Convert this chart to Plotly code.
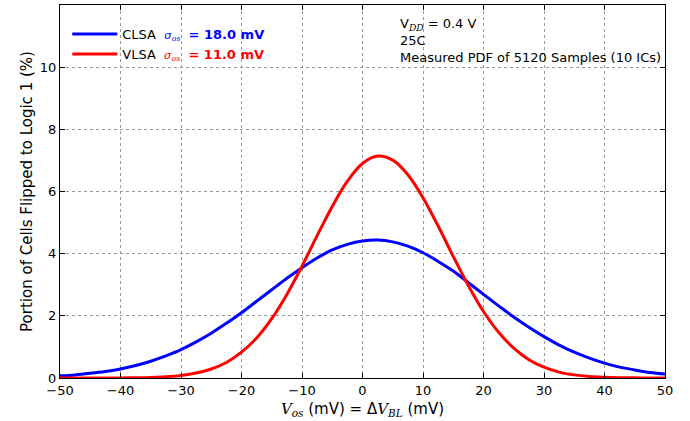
import plotly.graph_objects as go

x_mv = [-50, -47.5, -45, -42.5, -40, -37.5, -35, -32.5, -30, -27.5, -25, -22.5, -20, -17.5, -15, -12.5, -10,
        -7.5, -5, -2.5, 0, 2.5, 5, 7.5, 10, 12.5, 15, 17.5, 20, 22.5, 25, 27.5, 30, 32.5, 35, 37.5, 40, 42.5,
        45, 47.5, 50]
clsa_pct = [0.07, 0.10, 0.15, 0.21, 0.29, 0.40, 0.54, 0.71, 0.91, 1.16, 1.44, 1.76, 2.10, 2.47, 2.84, 3.21, 3.55,
            3.86, 4.12, 4.30, 4.41, 4.44, 4.38, 4.24, 4.03, 3.75, 3.44, 3.07, 2.69, 2.32, 1.96, 1.63, 1.33, 1.06,
            0.83, 0.64, 0.48, 0.35, 0.26, 0.18, 0.13]
vlsa_pct = [0.0, 0.0, 0.001, 0.002, 0.004, 0.009, 0.019, 0.041, 0.083, 0.16, 0.29, 0.50, 0.83, 1.29, 1.91, 2.69,
            3.60, 4.58, 5.52, 6.33, 6.90, 7.14, 7.01, 6.54, 5.80, 4.89, 3.91, 2.97, 2.14, 1.47, 0.96, 0.59, 0.35,
            0.19, 0.10, 0.05, 0.025, 0.011, 0.005, 0.002, 0.001]

SERIF = "DejaVu Serif"
FONT = "DejaVu Sans"


def legend_label(name, color, sigma):
    return ('<span style="color:black">%s</span>&nbsp;&nbsp;'
            '<span style="color:%s;font-family:%s;font-size:11px"><i>σ<sub>os</sub></i></span>'
            '<span style="color:%s">&nbsp;&nbsp;<b>= %s mV</b></span>' % (name, color, SERIF, color, sigma))


fig = go.Figure()
fig.add_trace(go.Scatter(x=x_mv, y=clsa_pct, mode="lines", line=dict(color="#0000ff", width=3, shape="spline"),
                         name=legend_label("CLSA", "#0000ff", "18.0")))
fig.add_trace(go.Scatter(x=x_mv, y=vlsa_pct, mode="lines", line=dict(color="#ff0000", width=3, shape="spline"),
                         name=legend_label("VLSA", "#ff0000", "11.0")))

axis_common = dict(
    showline=True, linecolor="black", linewidth=1.2, mirror="ticks",
    ticks="inside", ticklen=5, tickcolor="black",
    showgrid=True, gridcolor="#9a9a9a", griddash="dot", gridwidth=0.8,
    zeroline=False, tickfont=dict(family=FONT, size=13, color="black"),
)

fig.update_layout(
    width=690, height=421,
    margin=dict(l=60, r=25, t=5, b=43),
    paper_bgcolor="white", plot_bgcolor="white",
    font=dict(family=FONT, color="black"),
    xaxis=dict(range=[-50, 50], dtick=10, **axis_common,
               title=dict(text='<span style="font-family:%s"><i>V<sub>os</sub></i></span> (mV) = Δ<span style="font-family:%s"><i>V<sub>BL</sub></i></span> (mV)' % (SERIF, SERIF),
                          font=dict(size=15, family=FONT), standoff=6)),
    yaxis=dict(range=[0, 12], dtick=2, **axis_common,
               title=dict(text="Portion of Cells Flipped to Logic 1 (%)", font=dict(size=15, family=FONT), standoff=3)),
    legend=dict(x=0.012, y=0.962, xanchor="left", yanchor="top", bgcolor="rgba(255,255,255,0)", borderwidth=0,
                font=dict(family=FONT, size=13, color="black"), itemwidth=45, tracegroupgap=0),
    showlegend=True,
)

# white legend frame background (covers the grid like the original legend box)
fig.add_shape(type="rect", xref="paper", yref="paper", x0=0.002, x1=0.415, y0=0.818, y1=0.997,
              fillcolor="white", line=dict(width=0), layer="between")

fig.add_annotation(
    x=0.558, y=0.975, xref="paper", yref="paper", xanchor="left", yanchor="top", align="left",
    showarrow=False, font=dict(family=FONT, size=13, color="black"),
    text='V<span style="font-family:%s"><i><sub>DD</sub></i></span> = 0.4 V<br>25C<br>Measured PDF of 5120 Samples (10 ICs)' % SERIF,
)

fig.write_html("out.html")
